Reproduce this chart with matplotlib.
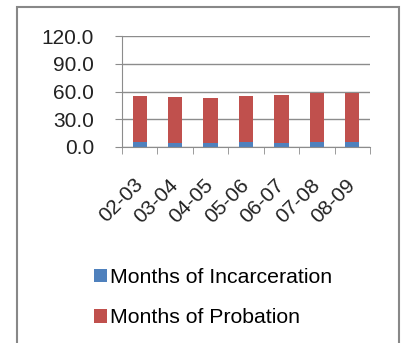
import matplotlib
matplotlib.use("Agg")
import matplotlib.pyplot as plt
from matplotlib.patches import Rectangle
import numpy as np

years = ["02-03", "03-04", "04-05", "05-06", "06-07", "07-08", "08-09"]
incarceration = [5.7, 4.3, 4.3, 5.7, 4.3, 5.7, 5.7]
probation = [49.8, 49.7, 48.3, 49.8, 52.3, 52.7, 52.7]

plt.rcParams["font.family"] = ["Liberation Sans", "DejaVu Sans"]

fig = plt.figure(figsize=(4.01, 3.43), dpi=100)
W, H = 401, 343

# outer chart border
fig.patches.append(Rectangle((17 / W, -0.05), (399 - 17) / W, 1.05 - 7 / H,
                             transform=fig.transFigure, fill=False,
                             edgecolor="#888888", linewidth=1.5))

ax = fig.add_axes([122 / W, 1 - 147 / H, 248 / W, 111 / H])
x = np.arange(len(years))
ax.bar(x, incarceration, width=0.4, color="#4F81BD", label="Months of Incarceration")
ax.bar(x, probation, width=0.4, bottom=incarceration, color="#C0504D",
       label="Months of Probation")

ax.set_xlim(-0.5, len(years) - 0.5)
ax.set_ylim(0, 120)
ax.set_yticks(np.arange(0, 121, 30))
ax.set_yticklabels([f"{v:.1f}" for v in np.arange(0, 121, 30)], fontsize=15,
                   color="#222222")
ax.yaxis.grid(True, color="#8c8c8c", linewidth=1)
ax.set_axisbelow(True)
for s in ["top", "right"]:
    ax.spines[s].set_visible(False)
for s in ["left", "bottom"]:
    ax.spines[s].set_color("#8c8c8c")
ax.tick_params(axis="y", length=5, color="#8c8c8c", pad=15)

ax.set_xticks(x)
ax.set_xticks(np.arange(-0.5, len(years)), minor=True)
ax.set_xticklabels(years, rotation=45, ha="right", va="center",
                   rotation_mode="anchor", fontsize=15, color="#222222")
ax.tick_params(axis="x", which="major", length=0, pad=25)
ax.tick_params(axis="x", which="minor", length=5, color="#8c8c8c")

handles, labels = ax.get_legend_handles_labels()
fig.legend(handles, labels, loc="upper left", bbox_to_anchor=(75 / W, 1 - 249 / H),
           frameon=False, fontsize=15.3, handlelength=0.6, handleheight=0.6,
           handletextpad=0.15, labelspacing=1.0)

fig.savefig("out.png", dpi=100)
